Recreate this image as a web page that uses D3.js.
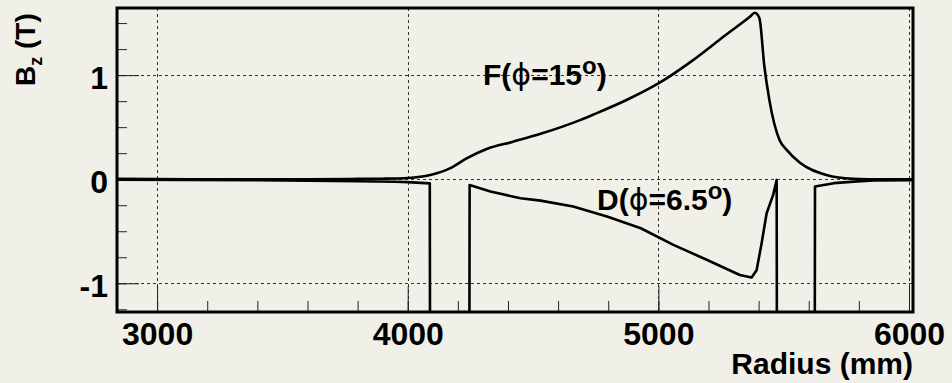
<!DOCTYPE html>
<html>
<head>
<meta charset="utf-8">
<script src="https://cdnjs.cloudflare.com/ajax/libs/d3/7.8.5/d3.min.js"></script>
<style>
  html, body { margin: 0; padding: 0; background: #f0efe8; }
  svg { display: block; }
</style>
</head>
<body>
<script>

// field along the radius
var r_F = [2840, 3200, 3600, 3800, 3900, 4000, 4090, 4170, 4235, 4315, 4420, 4530, 4690, 4740, 4875, 5000,
           5140, 5270, 5365, 5385, 5403, 5423, 5443, 5483, 5512, 5565, 5670, 5775, 5900, 6016];
var bz_F = [0.005, 0.0, 0.0, 0.003, 0.005, 0.012, 0.04, 0.106, 0.2, 0.29, 0.36, 0.436, 0.57, 0.62, 0.763, 0.92,
            1.147, 1.388, 1.56, 1.6, 1.548, 1.083, 0.76, 0.378, 0.282, 0.157, 0.041, 0.005, 0.0, 0.0];

// D magnet: field drops off the scale between the gaps
var r_D = [2840, 3400, 3800, 3950, 4000, 4088, 4089, 4246, 4247, 4330, 4450, 4530, 4660, 4795, 4930, 5060,
           5195, 5325, 5372, 5392, 5412, 5432, 5458, 5472, 5473, 5624, 5625, 5700, 5780, 5860, 6016];
var bz_D = [-0.005, -0.01, -0.02, -0.025, -0.028, -0.04, -1.6, -1.6, -0.055, -0.119, -0.183, -0.206, -0.263, -0.359, -0.471, -0.631,
            -0.776, -0.921, -0.944, -0.874, -0.615, -0.327, -0.151, -0.007, -1.6, -1.6, -0.071, -0.038, -0.023, -0.013, -0.01];

var x_major = [3000, 4000, 5000, 6000];
var x_minor = d3.range(3000, 6001, 200);
var y_major = [-1, 0, 1];
var y_minor = d3.range(-1.25, 1.51, 0.25);
var x_labels = ["3000", "4000", "5000", "6000"];
var y_labels = ["-1", "0", "1"];

var par = {
  w: 952, h: 383,
  left: 117, top: 8, fw: 796, fh: 304,
  bg: "#f0efe8",
  font: "'Liberation Sans', Arial, Helvetica, sans-serif"
};

var svg = d3.select("body").append("svg")
            .attr("width", par.w)
            .attr("height", par.h);

svg.append("rect").attr("x", 0).attr("y", 0).attr("width", par.w).attr("height", par.h)
   .style("fill", par.bg);

var x = d3.scaleLinear().domain([2840, 6016]).range([par.left, par.left + par.fw]);
var y = d3.scaleLinear().domain([-1.276, 1.645]).range([par.top + par.fh, par.top]);

// grid
var grid = svg.append("g").attr("class", "grid")
              .attr("stroke", "#333").attr("stroke-width", 1).attr("stroke-dasharray", "3,3");
grid.selectAll(".gx").data(x_major).enter().append("line")
    .attr("x1", d => Math.round(x(d)) + 0.5).attr("x2", d => Math.round(x(d)) + 0.5)
    .attr("y1", par.top).attr("y2", par.top + par.fh);
grid.selectAll(".gy").data(y_major).enter().append("line")
    .attr("y1", d => Math.round(y(d)) + 0.5).attr("y2", d => Math.round(y(d)) + 0.5)
    .attr("x1", par.left).attr("x2", par.left + par.fw);

// axes, ticks point inwards
var fmt_x = function(d){ return x_labels[x_major.indexOf(d)]; };
var fmt_y = function(d){ return y_labels[y_major.indexOf(d)]; };

var gx_minor = svg.append("g").attr("transform", "translate(0," + (par.top + par.fh) + ")")
  .call(d3.axisBottom(x).tickValues(x_minor).tickSize(-11).tickFormat(""));
var gx = svg.append("g").attr("transform", "translate(0," + (par.top + par.fh) + ")")
  .call(d3.axisBottom(x).tickValues(x_major).tickSize(-26).tickPadding(10).tickFormat(fmt_x));
var gy_minor = svg.append("g").attr("transform", "translate(" + par.left + ",0)")
  .call(d3.axisLeft(y).tickValues(y_minor).tickSize(-10).tickFormat(""));
var gy = svg.append("g").attr("transform", "translate(" + par.left + ",0)")
  .call(d3.axisLeft(y).tickValues(y_major).tickSize(-22).tickPadding(9).tickFormat(fmt_y));

[gx_minor, gx, gy_minor, gy].forEach(function(g){
  g.select(".domain").remove();
  g.selectAll(".tick line").attr("stroke", "#222").attr("stroke-width", 1);
  g.selectAll("text").attr("fill", "#000")
   .style("font-family", par.font).style("font-weight", "bold").style("font-size", "32px");
});
gy.selectAll("text").attr("dy", "0.42em");

// curves, clipped to the frame
svg.append("clipPath").attr("id", "frame_clip").append("rect")
   .attr("x", par.left).attr("y", par.top).attr("width", par.fw).attr("height", par.fh);

var line = d3.line().x(d => x(d[0])).y(d => y(d[1]));
var curves = svg.append("g").attr("clip-path", "url(#frame_clip)");
curves.append("path").datum(d3.zip(r_F, bz_F))
      .attr("d", line.curve(d3.curveMonotoneX))
      .attr("fill", "none").attr("stroke", "#000").attr("stroke-width", 2.6).attr("stroke-linejoin", "round");
curves.append("path").datum(d3.zip(r_D, bz_D))
      .attr("d", line.curve(d3.curveLinear))
      .attr("fill", "none").attr("stroke", "#000").attr("stroke-width", 2.6).attr("stroke-linejoin", "round");

// frame
svg.append("rect").attr("x", par.left).attr("y", par.top).attr("width", par.fw).attr("height", par.fh)
   .attr("fill", "none").attr("stroke", "#000").attr("stroke-width", 3);

// curve labels
var place_label = function(letter, angle, px, py){
  var t = svg.append("text").attr("x", px).attr("y", py)
             .style("font-family", par.font).style("font-weight", "bold").style("font-size", "30px");
  t.append("tspan").text(letter + "(");
  t.append("tspan").style("font-family", "'DejaVu Sans', sans-serif").style("font-weight", "normal").text("\u03d5");
  t.append("tspan").text("=" + angle);
  t.append("tspan").attr("dy", -11).style("font-size", "24px").text("o");
  t.append("tspan").attr("dy", 11).text(")");
};
place_label("F", "15", 483, 85);
place_label("D", "6.5", 597, 210);

// axis titles
svg.append("text").attr("x", par.left + par.fw).attr("y", 374).attr("text-anchor", "end")
   .style("font-family", par.font).style("font-weight", "bold").style("font-size", "30px")
   .text("Radius (mm)");

var yt = svg.append("text").attr("transform", "translate(35,86) rotate(-90)")
   .style("font-family", par.font).style("font-weight", "bold").style("font-size", "28px");
yt.append("tspan").text("B");
yt.append("tspan").attr("dy", 7).style("font-size", "18px").text("z");
yt.append("tspan").attr("dy", -7).text(" (T)");

</script>
</body>
</html>
